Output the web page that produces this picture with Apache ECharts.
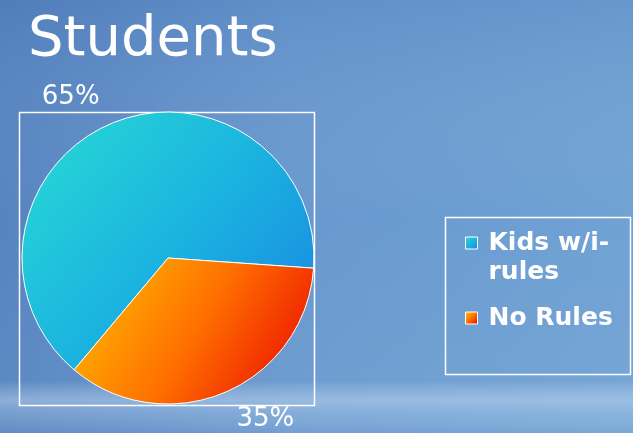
<!DOCTYPE html>
<html><head><meta charset="utf-8">
<script src="https://cdn.jsdelivr.net/npm/echarts@6/dist/echarts.min.js"></script>
<style>html,body{margin:0;padding:0;overflow:hidden;} #c{width:633px;height:433px;}</style>
</head><body><div id="c"></div>
<script>
const titleText = 'Students';
const categories = ['Kids w/i-rules', 'No Rules'];
const values = [65, 35];

const LG = echarts.graphic.LinearGradient;
const sliceColors = [
  new LG(0, 0, 1, 1, [{offset: 0, color: '#28dcd4'}, {offset: 0.55, color: '#1ab0e0'}, {offset: 1, color: '#1a82e2'}]),
  new LG(0, 0, 1, 1, [{offset: 0, color: '#ffc400'}, {offset: 0.5, color: '#ff7000'}, {offset: 1, color: '#e80000'}])
];

const chart = echarts.init(document.getElementById('c'));
const option = {
  animation: false,
  backgroundColor: new LG(0, 0, 1, 0, [
    {offset: 0, color: '#5684c0'}, {offset: 0.45, color: '#6898ce'}, {offset: 1, color: '#70a2d4'}
  ]),
  title: {
    text: titleText, left: 23, top: 7,
    textStyle: {fontFamily: 'DejaVu Sans', fontSize: 56, fontWeight: 'normal', color: '#ffffff'}
  },
  graphic: [
    {type: 'rect', z: -10, silent: true, shape: {x: 0, y: 0, width: 633, height: 433},
     style: {fill: new LG(0, 0, 0, 1, [
       {offset: 0, color: 'rgba(40,70,150,0.12)'},
       {offset: 0.5, color: 'rgba(255,255,255,0)'},
       {offset: 0.88, color: 'rgba(255,255,255,0.04)'},
       {offset: 0.925, color: 'rgba(215,232,250,0.42)'},
       {offset: 0.955, color: 'rgba(215,232,250,0.25)'},
       {offset: 1, color: 'rgba(255,255,255,0.06)'}
     ])}},
    {type: 'rect', z: 1, silent: true, shape: {x: 19.5, y: 112.5, width: 295, height: 293},
     style: {fill: 'none', stroke: '#ffffff', lineWidth: 1.5}},
    {type: 'rect', z: 1, silent: true, shape: {x: 445.5, y: 217.5, width: 185, height: 157},
     style: {fill: 'none', stroke: '#ffffff', lineWidth: 1.5}}
  ],
  legend: {
    orient: 'vertical', left: 460, top: 194.5, itemWidth: 12, itemHeight: 12, itemGap: 17,
    icon: 'rect', itemStyle: {borderColor: '#ffffff', borderWidth: 1},
    data: categories,
    formatter: n => n.includes('-') ? '\n' + n.replace('-', '-\n') : n,
    textStyle: {fontFamily: 'DejaVu Sans', fontSize: 25, fontWeight: 'bold', color: '#ffffff',
      lineHeight: 29, padding: [0, 0, 0, 6]}
  },
  series: [{
    type: 'pie', center: [168, 258], radius: 146, startAngle: 230, clockwise: true,
    itemStyle: {borderColor: '#ffffff', borderWidth: 1},
    label: {show: true, position: 'outside', formatter: '{d}%', distanceToLabelLine: 0,
      fontFamily: 'DejaVu Sans', fontSize: 26, color: '#ffffff'},
    labelLine: {show: false, length: 29, length2: 0},
    emphasis: {disabled: true},
    data: categories.map((c, i) => ({name: c, value: values[i], itemStyle: {color: sliceColors[i]}}))
  }]
};
chart.setOption(option);
</script>
</body></html>
